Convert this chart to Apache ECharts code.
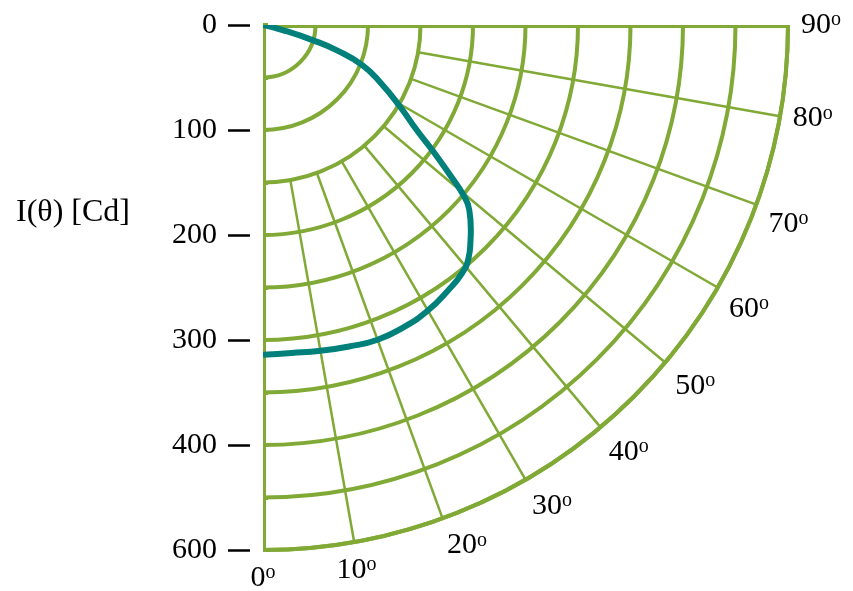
<!DOCTYPE html>
<html>
<head>
<meta charset="utf-8">
<script src="https://cdn.jsdelivr.net/npm/echarts@6/dist/echarts.min.js"></script>
<style>
html,body{margin:0;padding:0;background:#fff;}
#chart{width:853px;height:591px;}
</style>
</head>
<body>
<div id="chart"></div>
<script>
// ---- data ----
const radiusTickLabels = ['0', '100', '200', '300', '400', '600'];
const spokeAngles = [10, 20, 30, 40, 50, 60, 70, 80];
const axisAngles = [0, 90];
const spokeInnerRadius = 150;
const radiusMax = 500;
const curveAngles = [90, 75.5, 73, 71, 68, 63.8, 59.2, 55.7, 53.4, 51.3, 49.7, 48.1, 45.4, 43.9, 41.4, 38.7, 35, 30, 25, 20, 15, 10, 5, 0];
const curveIntensity = [0, 20, 50, 75, 102, 125, 152, 177, 202, 228, 250, 264, 278, 285, 296, 303, 308, 314, 317.5, 319, 317, 315, 313.5, 314];
const yTitle = 'I(θ) [Cd]';

const GREEN = '#80A936';
const TEAL = '#00807A';
const FONT = 'Liberation Serif';

const chart = echarts.init(document.getElementById('chart'), null, {renderer: 'canvas'});

const spokeSeries = spokeAngles.map(a => ({
  type: 'line', coordinateSystem: 'polar', silent: true, symbol: 'none',
  lineStyle: {color: GREEN, width: 2.5}, z: 2, clip: false,
  data: [[spokeInnerRadius, a], [radiusMax, a]]
}));
const axisSeries = axisAngles.map(a => ({
  type: 'line', coordinateSystem: 'polar', silent: true, symbol: 'none',
  lineStyle: {color: GREEN, width: 6}, z: 3, clip: false,
  data: [[0, a], [radiusMax, a]]
}));

const option = {
  backgroundColor: '#fff',
  animation: false,
  title: {
    text: yTitle, left: 11, top: 192,
    textStyle: {fontFamily: FONT, fontSize: 32, fontWeight: 'normal', color: '#000'}
  },
  grid: {left: 250, top: 25, width: 100, height: 525, containLabel: false},
  xAxis: {type: 'value', show: false, min: 0, max: 1},
  yAxis: {
    type: 'value', inverse: true, min: 0, max: 500, interval: 100,
    axisLine: {show: false},
    splitLine: {show: false},
    axisTick: {show: true, length: 22, lineStyle: {color: '#000', width: 2.5}},
    axisLabel: {
      margin: 33, fontFamily: FONT, fontSize: 30, color: '#000',
      formatter: (v) => radiusTickLabels[Math.round(v / 100)]
    }
  },
  polar: {center: [263, 25], radius: 525},
  angleAxis: {
    type: 'value', min: 0, max: 90, interval: 10,
    startAngle: 270, endAngle: 360, clockwise: false,
    axisLine: {show: true, lineStyle: {color: GREEN, width: 4}},
    axisTick: {show: false},
    splitLine: {show: false},
    axisLabel: {
      show: true, margin: 13,
      formatter: (v) => '{n|' + v + '}{s|o}',
      rich: {
        n: {fontFamily: FONT, fontSize: 30, color: '#000', lineHeight: 30},
        s: {fontFamily: FONT, fontSize: 20, color: '#000', lineHeight: 20, verticalAlign: 'top'}
      }
    }
  },
  radiusAxis: {
    type: 'value', min: 0, max: radiusMax, interval: 50,
    axisLine: {show: false},
    axisTick: {show: true, length: 5, lineStyle: {color: GREEN, width: 4}},
    axisLabel: {show: false},
    splitLine: {show: true, lineStyle: {color: GREEN, width: 4}}
  },
  series: [
    ...spokeSeries,
    ...axisSeries,
    {
      type: 'line', coordinateSystem: 'polar', silent: true, symbol: 'none',
      smooth: 0.5, clip: false,
      lineStyle: {color: TEAL, width: 6}, z: 5,
      data: curveAngles.map((a, i) => [curveIntensity[i], a])
    }
  ]
};
chart.setOption(option);
</script>
</body>
</html>
